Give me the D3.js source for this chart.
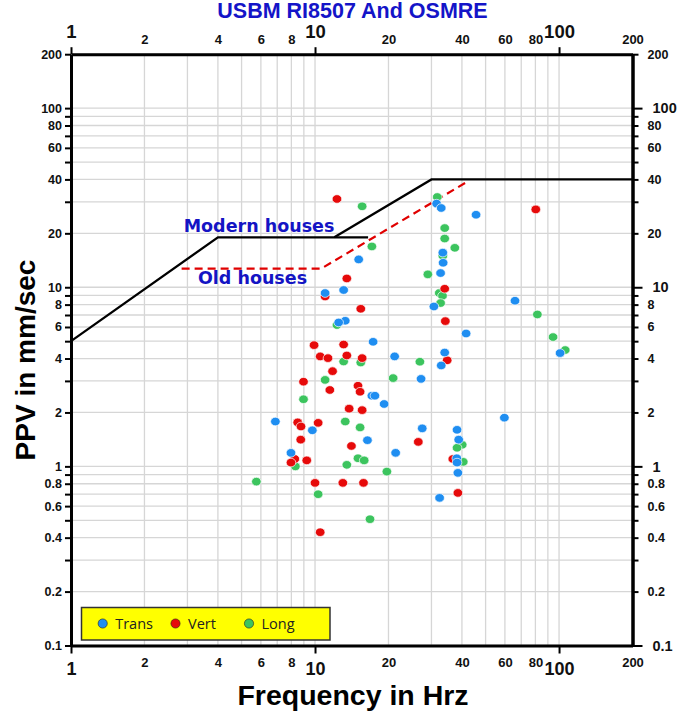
<!DOCTYPE html>
<html><head><meta charset="utf-8">
<script src="https://cdn.jsdelivr.net/npm/d3@7"></script>
<style>body{margin:0;background:#fff}</style>
</head><body><svg id="c" width="685" height="711"></svg>
<script>
// ---- data: [frequency Hz, PPV mm/s] ----
const transData = [[31.5,29.3],[32.9,27.7],[45.7,25.4],[33.4,15.6],[15.1,14.3],[33.5,13.7],[32.7,12.0],
 [11.0,9.28],[13.1,9.65],[30.7,7.81],[13.3,6.5],[12.5,6.36],[41.6,5.52],[17.3,4.96],[21.2,4.11],[34.0,4.32],
 [32.9,3.66],[27.2,3.08],[17.1,2.48],[17.6,2.48],[19.2,2.23],[6.88,1.78],[9.75,1.59],[27.5,1.63],[38.2,1.6],
 [38.8,1.41],[16.4,1.4],[7.97,1.19],[21.4,1.19],[38.1,1.11],[38.2,1.05],[38.5,0.92],[32.4,0.667],[59.7,1.87],
 [66.0,8.41],[101,4.29]];
const vertData = [[12.3,31.1],[80.3,27.2],[13.5,11.2],[11.0,8.88],[34.0,9.81],[15.4,7.58],[34.2,6.47],[9.91,4.75],
 [13.1,4.79],[10.5,4.11],[11.3,4.02],[13.5,4.16],[15.6,4.02],[34.8,3.91],[11.8,3.4],[8.97,2.97],[11.5,2.67],
 [15.0,2.82],[15.3,2.61],[13.8,2.1],[15.6,2.06],[8.49,1.76],[8.76,1.67],[10.3,1.75],[8.74,1.41],[14.1,1.3],
 [26.5,1.37],[8.26,1.1],[7.97,1.05],[9.25,1.08],[36.7,1.1],[10.0,0.809],[13.0,0.809],[15.8,0.809],[38.5,0.711],
 [10.5,0.429]];
const longData = [[15.6,28.3],[31.7,31.9],[34.0,21.4],[34.0,18.7],[33.4,15.0],[37.4,16.6],[17.1,16.9],[29.0,11.8],
 [32.3,9.28],[33.3,8.96],[32.7,8.16],[12.3,6.15],[13.1,3.85],[15.4,3.8],[26.9,3.84],[11.0,3.04],[20.9,3.11],
 [8.97,2.37],[13.3,1.78],[15.3,1.65],[40.1,1.32],[38.2,1.27],[8.31,1.0],[15.0,1.11],[15.9,1.08],[13.5,1.02],
 [19.7,0.935],[40.5,1.06],[5.75,0.822],[10.3,0.699],[16.8,0.507],[81.5,7.05],[94.5,5.27],[106,4.46]];
const seriesNames = ["Trans","Vert","Long"];
const seriesColors = ["#1f8ef1","#e60a0a","#3cc45e"];
const modernCurveA = [[1,5],[4,19],[16.5,19]];
const modernCurveB = [[12,19],[30,40],[200,40]];
const oldCurve = [[2.84,12.7],[10.6,12.7],[42,38.8]];
const xMajorTicks = [1,10,100];
const xMinorLabels = [2,4,6,8,20,40,60,80,200];
const yLabelValues = [200,100,80,60,40,20,10,8,6,4,2,1,0.8,0.6,0.4,0.2,0.1];
const yMajorValues = [100,10,1,0.1];
const titleText = "USBM RI8507 And OSMRE";

// ---- build ----
const svg = d3.select("#c");
const x = d3.scaleLog().domain([1,200]).range([71,632.5]);
const y = d3.scaleLog().domain([0.1,200]).range([645.5,54.2]);
const L=71,R=632.5,T=54.2,B=645.5;

const gridX=[], gridY=[];
for (const dec of [1,10,100]) for (let k=1;k<10;k++){ const v=dec*k; if(v>1&&v<200) gridX.push(v); }
for (const dec of [0.1,1,10,100]) for (let k=1;k<10;k++){ const v=+(dec*k).toPrecision(3); if(v<=200) gridY.push(v); }

const g = svg.append("g");
g.selectAll(".gx").data(gridX).join("line").attr("x1",d=>x(d)).attr("x2",d=>x(d)).attr("y1",T).attr("y2",B)
 .attr("stroke","#d6d6d6").attr("stroke-width",1.3);
g.selectAll(".gy").data(gridY).join("line").attr("y1",d=>y(d)).attr("y2",d=>y(d)).attr("x1",L).attr("x2",R)
 .attr("stroke","#d6d6d6").attr("stroke-width",1.3);

const line = d3.line().x(d=>x(d[0])).y(d=>y(d[1]));
g.append("path").attr("d",line(modernCurveA)).attr("fill","none").attr("stroke","#000").attr("stroke-width",2.3);
g.append("path").attr("d",line(modernCurveB)).attr("fill","none").attr("stroke","#000").attr("stroke-width",2.3);
g.append("path").attr("d",line(oldCurve)).attr("fill","none").attr("stroke","#e00000").attr("stroke-width",2.2).attr("stroke-dasharray","8,5");

const hf = "'DejaVu Sans', Verdana, sans-serif";
g.append("text").attr("x",259).attr("y",232).attr("text-anchor","middle").attr("font-family",hf).attr("font-weight","bold")
 .attr("font-size",17.5).attr("fill","#1414c4").text("Modern houses");
g.append("text").attr("x",252.5).attr("y",284).attr("text-anchor","middle").attr("font-family",hf).attr("font-weight","bold")
 .attr("font-size",17.5).attr("fill","#1414c4").text("Old houses");

// points
const all = [longData, vertData, transData];
const idx = [2,1,0];
all.forEach((data,i)=>{
  g.append("g").selectAll("ellipse").data(data).join("ellipse")
   .attr("cx",d=>x(d[0])).attr("cy",d=>y(d[1])).attr("rx",4.8).attr("ry",4.3)
   .attr("fill",seriesColors[idx[i]]).attr("stroke","#fff").attr("stroke-width",0.7);
});

// axes
const af = "'Liberation Sans', Arial, sans-serif";
const fmt = d => String(d);
function styleAx(sel, fs){
  sel.select(".domain").attr("stroke","#000").attr("stroke-width",3);
  sel.selectAll(".tick line").attr("stroke","#000").attr("stroke-width",2);
  sel.selectAll("text").attr("font-family",af).attr("font-weight","bold").attr("font-size",fs).attr("fill","#111");
}
const yMinorTickVals = gridY.concat([200]).filter((v,i,a)=>a.indexOf(v)===i);
const yl = svg.append("g").attr("transform",`translate(${L},0)`)
 .call(d3.axisLeft(y).tickValues(yMinorTickVals).tickSize(6).tickSizeOuter(0).tickPadding(3)
   .tickFormat(d=>yLabelValues.includes(d)?fmt(d):""));
styleAx(yl,12.5);
const yr = svg.append("g").attr("transform",`translate(${R},0)`)
 .call(d3.axisRight(y).tickValues(yMinorTickVals.filter(v=>!yMajorValues.includes(v))).tickSize(6).tickSizeOuter(0).tickPadding(9)
   .tickFormat(d=>yLabelValues.includes(d)?fmt(d):""));
styleAx(yr,12.5);
const yr2 = svg.append("g").attr("transform",`translate(${R},0)`)
 .call(d3.axisRight(y).tickValues(yMajorValues).tickSize(10).tickSizeOuter(0).tickPadding(10).tickFormat(fmt));
styleAx(yr2,14.5);

const xb = svg.append("g").attr("transform",`translate(0,${B})`)
 .call(d3.axisBottom(x).tickValues(xMajorTicks).tickSize(8).tickSizeOuter(0).tickPadding(9).tickFormat(fmt));
styleAx(xb,18);
const xb2 = svg.append("g").attr("transform",`translate(0,${B})`)
 .call(d3.axisBottom(x).tickValues(xMinorLabels).tickSize(0).tickSizeOuter(0).tickPadding(12).tickFormat(fmt));
styleAx(xb2,13); xb2.select(".domain").remove();
const xt = svg.append("g").attr("transform",`translate(0,${T})`)
 .call(d3.axisTop(x).tickValues(xMajorTicks).tickSize(7).tickSizeOuter(0).tickPadding(9).tickFormat(fmt));
styleAx(xt,18.5);
const xt2 = svg.append("g").attr("transform",`translate(0,${T})`)
 .call(d3.axisTop(x).tickValues(xMinorLabels).tickSize(0).tickSizeOuter(0).tickPadding(10).tickFormat(fmt));
styleAx(xt2,13); xt2.select(".domain").remove();

// titles
svg.append("text").attr("x",352.5).attr("y",18).attr("text-anchor","middle").attr("font-family",af).attr("font-weight","bold")
 .attr("font-size",21.5).attr("fill","#1414c8").text(titleText);
svg.append("text").attr("x",353).attr("y",704.5).attr("text-anchor","middle").attr("font-family",af).attr("font-weight","bold")
 .attr("font-size",28.5).attr("fill","#000").text("Frequency in Hrz");
svg.append("text").attr("transform","translate(35,360) rotate(-90)").attr("text-anchor","middle").attr("font-family",af).attr("font-weight","bold")
 .attr("font-size",28).attr("fill","#000").text("PPV in mm/sec");

// legend
const lg = svg.append("g");
lg.append("rect").attr("x",81.5).attr("y",607.5).attr("width",248.5).attr("height",32.5).attr("fill","#ffff00").attr("stroke","#333").attr("stroke-width",1.5);
const lx = [102.7,175.5,249];
const li = lg.selectAll(".li").data(seriesNames).join("g").attr("transform",(d,i)=>`translate(${lx[i]},623.5)`);
li.append("circle").attr("r",4.6).attr("fill",(d,i)=>seriesColors[i]).attr("stroke","#222").attr("stroke-width",0.6);
li.append("text").attr("x",12.5).attr("y",5.5).attr("font-family","'Open Sans', 'Liberation Sans', sans-serif").attr("font-size",14.5).attr("fill","#222").text(d=>d);
</script></body></html>
